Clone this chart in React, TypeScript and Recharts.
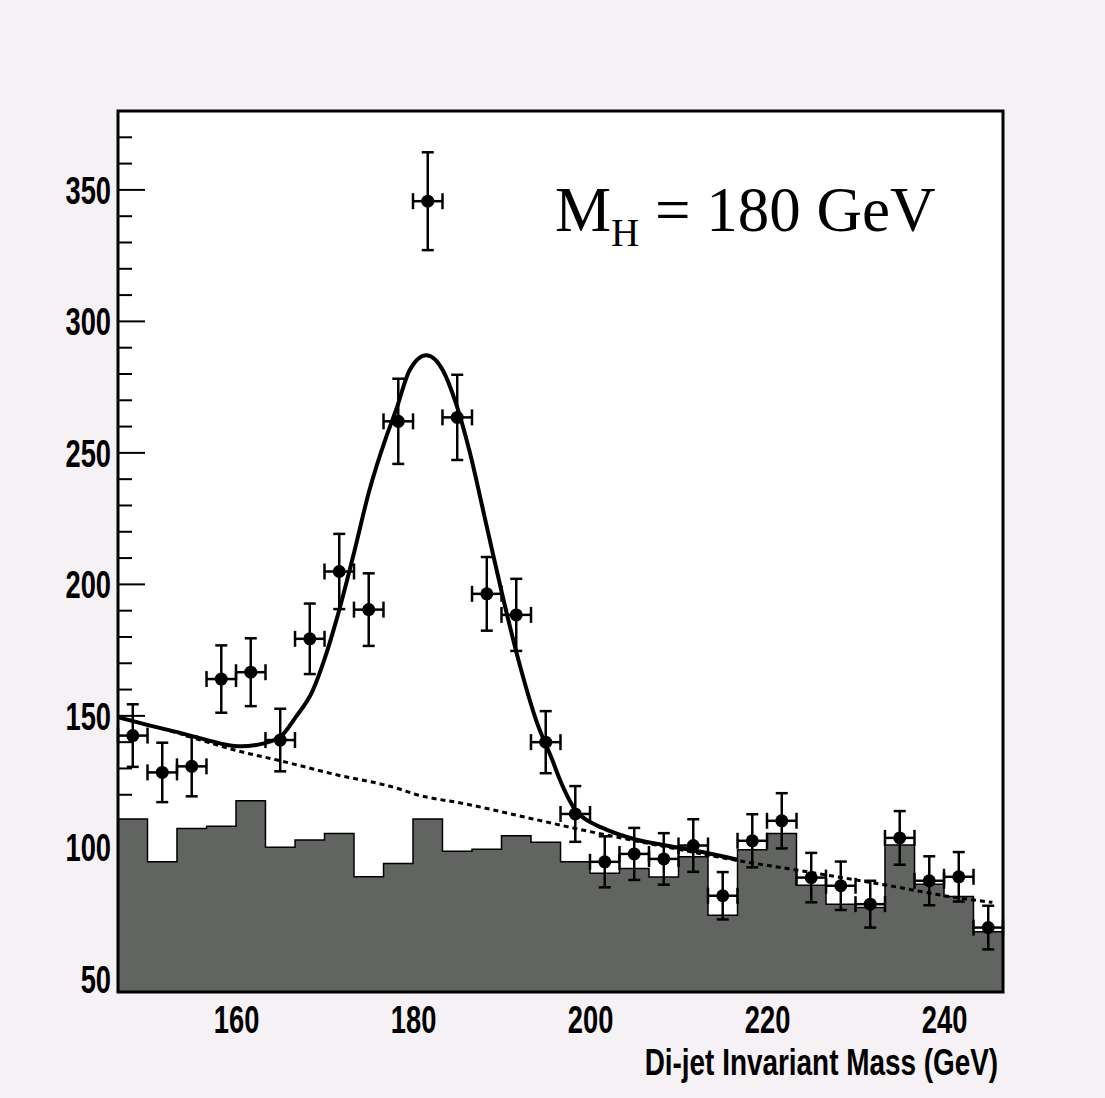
import { ComposedChart, Area, Line, Scatter, ErrorBar, XAxis, YAxis, ReferenceArea } from 'recharts';

const BIN_WIDTH = 10 / 3;

// di-jet mass bin centres (GeV)
const binCenters = [
  148.27, 151.6, 154.93, 158.27, 161.6, 164.93, 168.27, 171.6, 174.93, 178.27,
  181.6, 184.93, 188.27, 191.6, 194.93, 198.27, 201.6, 204.93, 208.27, 211.6,
  214.93, 218.27, 221.6, 224.93, 228.27, 231.6, 234.93, 238.27, 241.6, 244.93,
];

// background histogram (grey)
const histCounts = [
  110.8, 94.5, 107.2, 108.0, 117.7, 100.0, 102.8, 105.3, 88.8, 93.9,
  110.8, 98.5, 99.3, 104.4, 101.9, 94.5, 90.2, 92.0, 88.7, 96.4,
  74.2, 99.1, 105.3, 85.6, 78.4, 77.1, 100.9, 86.0, 81.3, 67.9,
];

// signal + background pseudo-data
const dataCounts = [
  142.5, 128.5, 130.8, 164.0, 166.6, 140.8, 179.3, 204.9, 190.4, 262.0,
  345.7, 263.5, 196.4, 188.4, 140.0, 112.7, 94.5, 97.5, 95.6, 100.7,
  81.6, 102.5, 110.1, 88.5, 85.4, 78.4, 103.6, 87.3, 88.8, 69.5,
];
const dataErrors = [
  11.9, 11.3, 11.4, 12.8, 12.9, 11.9, 13.4, 14.3, 13.8, 16.2,
  18.6, 16.2, 14.0, 13.7, 11.8, 10.6, 9.7, 9.9, 9.8, 10.0,
  9.0, 10.1, 10.5, 9.4, 9.2, 8.9, 10.2, 9.3, 9.4, 8.3,
];

// fitted curve (signal + background)
const fitMass = [
  146.6, 150.0, 153.3, 156.7, 158.8, 160.5, 162.2, 164.85, 166.7, 168.6,
  170.0, 171.26, 173.14, 175.0, 176.9, 178.0, 179.55, 181.43, 183.3, 184.8,
  186.3, 188.2, 190.09, 191.97, 193.86, 195.7, 196.5, 197.6, 198.3, 199.5,
  201.2, 204.97, 208.7, 212.5, 216.6,
];
const fitValues = [
  149.5, 146.5, 143.8, 140.8, 139.0, 138.4, 138.9, 141.8, 149.6, 159.6,
  172.2, 186.2, 210.3, 235.7, 256.0, 266.1, 281.4, 287.1, 281.4, 268.7,
  250.9, 223.0, 195.1, 169.7, 148.2, 133.0, 126.0, 118.0, 114.0, 110.5,
  107.6, 103.1, 100.6, 98.3, 95.3,
];

// background-only component (dotted)
const bgMass = [146.6, 153.3, 156.7, 160.0, 164.85, 170.9, 178.4, 180.1, 185.9, 193.5, 199.5, 208.0, 216.8, 222.5, 233.8, 241.3, 245.4];
const bgValues = [149.5, 143.5, 140.0, 136.8, 133.0, 127.9, 122.2, 120.3, 116.5, 110.8, 106.3, 100.5, 94.9, 91.8, 85.4, 80.9, 79.1];

const xTicks = [160, 180, 200, 220, 240];
const yTicks = [50, 60, 70, 80, 90, 100, 110, 120, 130, 140, 150, 160, 170, 180, 190, 200, 210, 220, 230, 240, 250, 260, 270, 280, 290, 300, 310, 320, 330, 340, 350, 360, 370];

const histData = binCenters.map((c, i) => ({ x: c - BIN_WIDTH / 2, h: histCounts[i] }));
histData.push({ x: binCenters[binCenters.length - 1] + BIN_WIDTH / 2, h: histCounts[histCounts.length - 1] });

const pointData = binCenters.map((c, i) => ({ x: c, y: dataCounts[i], ey: dataErrors[i], ex: BIN_WIDTH / 2 }));
const fitData = fitMass.map((m, i) => ({ x: m, f: fitValues[i] }));
const bgData = bgMass.map((m, i) => ({ x: m, b: bgValues[i] }));

const LABEL_FONT = '"Liberation Sans", Arial, sans-serif';

function YTick({ x, y, payload }: any) {
  const v = payload.value;
  const major = v % 50 === 0;
  // ticks sit inside the frame, so the first histogram bin hides the low ones
  const hidden = v < histCounts[0];
  return (
    <g>
      {!hidden && <line x1={x} x2={x + (major ? 27 : 14)} y1={y} y2={y} stroke="#000" strokeWidth={2} />}
      {major && (
        <text
          transform={`translate(${x - 7},${y}) scale(0.7,1)`}
          textAnchor="end"
          dy="0.36em"
          fontFamily={LABEL_FONT}
          fontWeight="bold"
          fontSize={39}
          fill="#000"
        >
          {v}
        </text>
      )}
    </g>
  );
}

function XTick({ x, y, payload }: any) {
  return (
    <text
      transform={`translate(${x},${y + 41}) scale(0.7,1)`}
      textAnchor="middle"
      fontFamily={LABEL_FONT}
      fontWeight="bold"
      fontSize={39}
      fill="#000"
    >
      {payload.value}
    </text>
  );
}

function Dot({ cx, cy }: any) {
  return <circle cx={cx} cy={cy} r={6.5} fill="#000" />;
}

export default function App() {
  return (
    <div style={{ position: 'absolute', left: 0, top: 0, width: 1105, height: 1098, background: '#f5f1f5' }}>
      <ComposedChart width={1105} height={1098} margin={{ top: 111, right: 102, bottom: 26, left: 58 }}>
        <rect x={118} y={111} width={885} height={881} fill="#fff" />
        <XAxis
          dataKey="x"
          type="number"
          domain={[146.6, 246.6]}
          ticks={xTicks}
          interval={0}
          height={80}
          tickSize={0}
          tickMargin={0}
          tickLine={false}
          axisLine={false}
          tick={<XTick />}
          allowDataOverflow
        />
        <YAxis
          type="number"
          domain={[45, 380]}
          ticks={yTicks}
          interval={0}
          width={60}
          tickSize={0}
          tickMargin={0}
          tickLine={false}
          axisLine={false}
          tick={<YTick />}
          allowDataOverflow
        />
        <Area
          data={histData}
          dataKey="h"
          type="stepAfter"
          fill="#626461"
          fillOpacity={1}
          stroke="#000"
          strokeWidth={1.5}
          isAnimationActive={false}
        />
        <Line
          data={bgData}
          dataKey="b"
          type="monotone"
          stroke="#000"
          strokeWidth={3}
          strokeDasharray="5 4"
          dot={false}
          isAnimationActive={false}
        />
        <Line
          data={fitData}
          dataKey="f"
          type="monotone"
          stroke="#000"
          strokeWidth={4}
          dot={false}
          isAnimationActive={false}
        />
        <Scatter data={pointData} dataKey="y" shape={<Dot />} isAnimationActive={false}>
          <ErrorBar dataKey="ey" direction="y" width={6} stroke="#000" strokeWidth={2.5} />
          <ErrorBar dataKey="ex" direction="x" width={8} stroke="#000" strokeWidth={2.5} />
        </Scatter>
        <ReferenceArea x1={146.6} x2={246.6} y1={45} y2={380} fill="none" stroke="#000" strokeWidth={3} ifOverflow="visible" />
      </ComposedChart>
      <div
        style={{
          position: 'absolute',
          left: 555,
          top: 179,
          fontFamily: '"Liberation Serif", "Times New Roman", serif',
          fontSize: 63,
          lineHeight: '63px',
          color: '#000',
          whiteSpace: 'nowrap',
        }}
      >
        M<span style={{ fontSize: 39, position: 'relative', top: 15 }}>H</span> = 180 GeV
      </div>
      <div
        style={{
          position: 'absolute',
          right: 107,
          top: 1045,
          fontFamily: LABEL_FONT,
          fontWeight: 'bold',
          fontSize: 36,
          lineHeight: '36px',
          color: '#000',
          whiteSpace: 'nowrap',
          transform: 'scaleX(0.775)',
          transformOrigin: 'right',
        }}
      >
        Di-jet Invariant Mass (GeV)
      </div>
    </div>
  );
}
